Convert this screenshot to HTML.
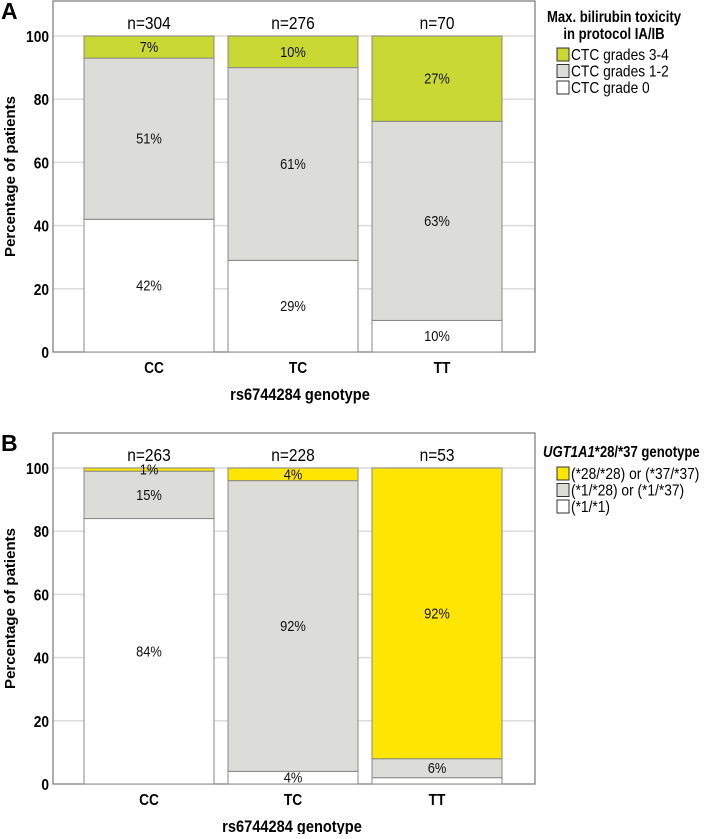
<!DOCTYPE html>
<html><head><meta charset="utf-8"><style>
body{margin:0;background:#fff;width:708px;height:834px;overflow:hidden}
svg{font-family:"Liberation Sans",sans-serif}
</style></head><body>
<svg id="c" width="708" height="834"></svg>
<script>
const categories=["CC","TC","TT"];
const nA=["n=304","n=276","n=70"];
const a0=[42,29,10], a1=[51,61,63], a2=[7,10,27];
const nB=["n=263","n=228","n=53"];
const b0=[84,4,2], b1=[15,92,6], b2=[1,4,92];
const b0Labels=["84%","4%",""];
const yTicks=[0,20,40,60,80,100];
const legendA=["CTC grades 3-4","CTC grades 1-2","CTC grade 0"];
const legendB=["(*28/*28) or (*37/*37)","(*1/*28) or (*1/*37)","(*1/*1)"];
const NS="http://www.w3.org/2000/svg";
const svg=document.getElementById('c');
const SX=0.86;
function mk(t,at,txt,parent){const e=document.createElementNS(NS,t);for(const k in at)e.setAttribute(k,at[k]);if(txt!==undefined)e.textContent=txt;(parent||svg).appendChild(e);return e;}
function tx(x,y,s,at,parent,sx){const a=Object.assign({x:0,y:0,transform:`translate(${x},${y}) scale(${sx||SX},1)`},at);return mk('text',a,s,parent);}
function panel(cfg){
  const g=mk('g',{});
  
  
  const L=53,R=535,T=cfg.top,B=cfg.bottom,y100=cfg.y100;
  const y=v=>B-(B-y100)*v/100;
  const x=i=>84+i*144;const bw=130;
  yTicks.forEach(t=>{if(t>0){const l=mk('line',{x1:L,x2:R,y1:y(t),y2:y(t),stroke:'#dcdcdc','stroke-width':1.5},undefined,g);}});
  const f=mk('rect',{x:L,y:T,width:R-L,height:B-T,fill:'none',stroke:'#777','stroke-width':1.2},undefined,g);
  
  const series=[cfg.s0,cfg.s1,cfg.s2], fills=['#ffffff','#dcdcd8',cfg.yellow];
  categories.forEach((c,i)=>{
    let base=0;
    series.forEach((s,k)=>{
      const v=s[i];
      const r=mk('rect',{x:x(i),y:y(base+v),width:bw,height:y(base)-y(base+v),fill:fills[k],stroke:'#888','stroke-width':1},undefined,g);
      
      
      const lab=(k===0&&cfg.l0)?cfg.l0[i]:v+'%';
      if(lab){const t=tx(x(i)+bw/2,(y(base)+y(base+v))/2+5,lab,{'text-anchor':'middle','font-size':15,fill:'#111'},g);
      }
      base+=v;
    });
    const n=tx(x(i)+bw/2,T+28,cfg.n[i],{'text-anchor':'middle','font-size':18},g);
    
    const cl=tx(x(i)+bw/2+cfg.cOff,B+21,c,{'text-anchor':'middle','font-size':16,'font-weight':'bold'},g);
    
  });
  yTicks.forEach(t=>{const tl=tx(49,y(t)+6,t,{'text-anchor':'end','font-size':16,'font-weight':'bold'},g);
    });
  const yt=mk('text',{x:0,y:0,transform:`translate(15,${(T+B)/2}) rotate(-90)`,'text-anchor':'middle','font-size':15,'font-weight':'bold'},'Percentage of patients',g);
  
  const xt=tx(cfg.xtx,B+48,'rs6744284 genotype',{'text-anchor':'middle','font-size':17,'font-weight':'bold'},g);
  
  const pl=mk('text',{x:1,y:T+18,'font-size':23,'font-weight':'bold'},cfg.letter,g);
  
  cfg.legendTitle(g);
  const lf=[cfg.yellow,'#dcdcd8','#ffffff'];
  cfg.legend.forEach((s,k)=>{const cy=cfg.legY+k*16.5;
    const sw=mk('rect',{x:557,y:cy-6,width:12,height:13,fill:lf[k],stroke:'#333','stroke-width':1},undefined,g);
    
    const lt=tx(571,cy+6,s,{'font-size':16},g);
    });
}
panel({name:'panel-a',letter:'A',top:1,bottom:352,y100:36,n:nA,s0:a0,s1:a1,s2:a2,yellow:'#c9d832',legend:legendA,legY:54,xtx:300,cOff:5,
  legendTitle:g=>{[['Max. bilirubin toxicity',22],['in protocol IA/IB',39]].forEach(([s,yy])=>{const t=tx(614,yy,s,{'text-anchor':'middle','font-size':16,'font-weight':'bold'},g,0.82);});}});
panel({name:'panel-b',letter:'B',top:433,bottom:784,y100:468,n:nB,s0:b0,s1:b1,s2:b2,l0:b0Labels,yellow:'#ffe600',legend:legendB,legY:473,xtx:292,cOff:0,
  legendTitle:g=>{const t=tx(543,457,'',{'font-size':16,'font-weight':'bold'},g,0.82);
    
    mk('tspan',{'font-style':'italic'},'UGT1A1',t);mk('tspan',{},'*28/*37 genotype',t);}});
</script>
</body></html>
